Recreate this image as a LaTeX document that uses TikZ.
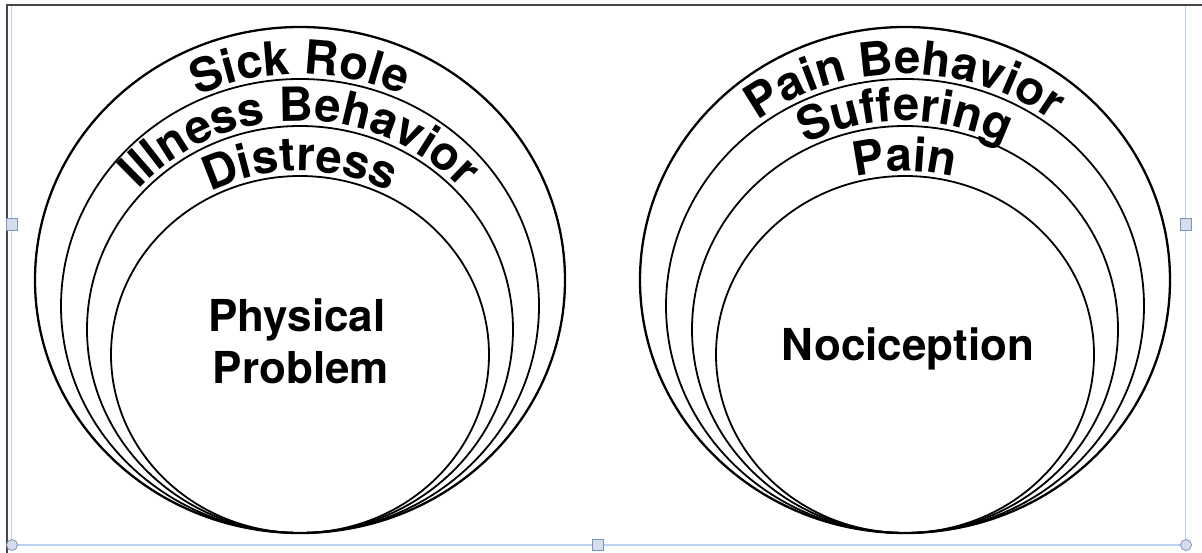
\documentclass[tikz,border=0pt]{standalone}
\usepackage{fontspec}
\setmainfont{TeX Gyre Heros}
\usepackage{tikz}
\usetikzlibrary{calc,decorations.text}
\newcommand{\labelsize}{44}
\newcommand{\arcsize}{47}
\definecolor{framegray}{RGB}{70,70,70}
\definecolor{selblue}{RGB}{188,208,242}
\definecolor{handlefill}{RGB}{214,222,236}
\definecolor{handleedge}{RGB}{125,145,190}
\newcommand{\ringlabel}[4]{
	\path[decorate, decoration={text along path, text align=center,
		text={|\bfseries\fontsize{\arcsize}{\arcsize}\selectfont|#4}}]
		($(#1)+(-#2,0)$) arc[start angle=180, end angle=0, x radius=#2pt, y radius=#3pt];
}

\begin{document}
\begin{tikzpicture}[x=1pt,y=1pt,
	ring/.style={line width=1.8pt},
	outerring/.style={line width=2.3pt},
	bigtext/.style={inner sep=0pt, font=\bfseries\fontsize{\labelsize}{52}\selectfont},
	handle/.style={fill=handlefill, draw=handleedge, line width=0.8pt}]
	\useasboundingbox (0,0) rectangle (1202,-553);

	% window frame and selection box
	\draw[framegray, line width=1.5pt] (1202,-5) -- (7,-5) -- (7,-553);
	\draw[selblue, line width=1.5pt] (11.5,-6) -- (11.5,-545) -- (1185.5,-545) -- (1185.5,-6);
	\draw[handle] (6.5,-218) rectangle (17.5,-230);
	\draw[handle] (1180.5,-218) rectangle (1191.5,-230);
	\draw[handle] (592.5,-539.5) rectangle (603.5,-550.5);
	\draw[handle] (12,-545) circle (5.5pt);
	\draw[handle] (1186,-545) circle (5.5pt);

	% left set
	\coordinate (L1) at (300,-280);
	\coordinate (L2) at (300,-306);
	\coordinate (L3) at (300,-329.5);
	\coordinate (L4) at (300,-354.5);
	\draw[outerring] (L1) ellipse [x radius=265pt, y radius=253pt];
	\draw[ring] (L2) ellipse [x radius=239pt, y radius=227pt];
	\draw[ring] (L3) ellipse [x radius=213pt, y radius=203.5pt];
	\draw[ring] (L4) ellipse [x radius=189pt, y radius=178.5pt];
	\ringlabel{L2}{244}{232}{Sick Role}
	\ringlabel{L3}{218}{208.5}{Illness Behavior}
	\ringlabel{L4}{194}{183.5}{Distress}
	\node[bigtext, align=center] (physical) at (297,-341) {Physical\\\hspace*{8pt}Problem};

	% right set
	\coordinate (R1) at (905,-280);
	\coordinate (R2) at (905,-306);
	\coordinate (R3) at (905,-329.5);
	\coordinate (R4) at (905,-354.5);
	\draw[outerring] (R1) ellipse [x radius=265pt, y radius=253pt];
	\draw[ring] (R2) ellipse [x radius=239pt, y radius=227pt];
	\draw[ring] (R3) ellipse [x radius=213pt, y radius=203.5pt];
	\draw[ring] (R4) ellipse [x radius=189pt, y radius=178.5pt];
	\ringlabel{R2}{244}{232}{Pain Behavior}
	\ringlabel{R3}{218}{208.5}{Suffering}
	\ringlabel{R4}{194}{183.5}{Pain}
	\node[bigtext, anchor=base] (nociception) at (908,-360) {Nociception};
\end{tikzpicture}
\end{document}
